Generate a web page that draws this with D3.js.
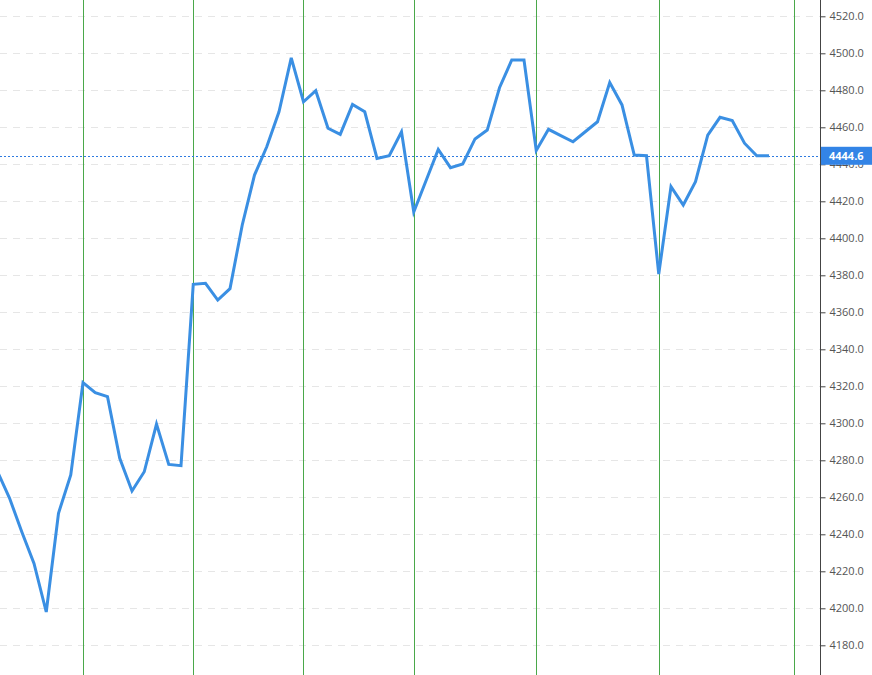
<!DOCTYPE html>
<html>
<head>
<meta charset="utf-8">
<script src="https://cdn.jsdelivr.net/npm/d3@7/dist/d3.min.js"></script>
<style>
  html, body { margin: 0; padding: 0; background: #fff; }
  svg { display: block; }
</style>
</head>
<body>
<svg id="chart" width="872" height="675"></svg>
<script>
// ---- data ----
const prices = [
  4274.2, 4259.6, 4241.4, 4224.3, 4198.0, 4251.4, 4272.1, 4322.0, 4316.6, 4314.4,
  4281.1, 4263.4, 4273.8, 4299.6, 4277.8, 4277.1, 4375.1, 4375.7, 4366.6, 4372.8,
  4407.2, 4434.2, 4449.5, 4468.4, 4497.5, 4473.8, 4479.8, 4459.5, 4456.2, 4472.4,
  4468.4, 4443.2, 4444.6, 4457.6, 4414.2, 4431.1, 4448.0, 4438.2, 4440.2, 4453.7,
  4458.5, 4481.4, 4496.4, 4496.4, 4447.5, 4458.9, 4455.5, 4452.2, 4457.6, 4463.0,
  4484.2, 4472.1, 4445.0, 4444.6, 4380.7, 4427.9, 4418.0, 4430.6, 4455.8, 4465.4,
  4463.6, 4451.4, 4444.6, 4444.6
];
const separatorIdx = [7, 16, 25, 34, 44, 54, 65];
const yTicks = [4180, 4200, 4220, 4240, 4260, 4280, 4300, 4320, 4340, 4360, 4380,
                4400, 4420, 4440, 4460, 4480, 4500, 4520];
const lastPrice = 4444.6;

// ---- layout ----
const W = 872, H = 675;
const axisX = 820;
const svg = d3.select("#chart");

const x = d3.scaleLinear().domain([0, 63]).range([-2.75, 769]);
const y = d3.scaleLinear().domain([4180, 4520]).range([645.3, 16.3]);

svg.append("defs").append("clipPath").attr("id", "plot")
  .append("rect").attr("x", 0).attr("y", 0).attr("width", axisX).attr("height", H);

// gridlines
svg.append("g").selectAll("line").data(yTicks).join("line")
  .attr("x1", 0).attr("x2", axisX)
  .attr("y1", d => Math.round(y(d)) + 0.5).attr("y2", d => Math.round(y(d)) + 0.5)
  .attr("stroke", "#e6e6e6").attr("stroke-width", 1)
  .attr("stroke-dasharray", "7,6");

// separator lines
svg.append("g").attr("clip-path", "url(#plot)")
  .selectAll("line").data(separatorIdx).join("line")
  .attr("x1", d => Math.round(x(d)) + 0.5).attr("x2", d => Math.round(x(d)) + 0.5)
  .attr("y1", 0).attr("y2", H)
  .attr("stroke", "#4aa84a").attr("stroke-width", 1);

// last price dotted line
svg.append("line")
  .attr("x1", 0).attr("x2", axisX)
  .attr("y1", Math.round(y(lastPrice)) + 0.5).attr("y2", Math.round(y(lastPrice)) + 0.5)
  .attr("stroke", "#2f7be0").attr("stroke-width", 1)
  .attr("stroke-dasharray", "2,2");

// price line
const line = d3.line().x((d, i) => x(i)).y(d => y(d));
svg.append("path").attr("clip-path", "url(#plot)")
  .datum(prices)
  .attr("d", line)
  .attr("fill", "none")
  .attr("stroke", "#3a8fe3")
  .attr("stroke-width", 3)
  .attr("stroke-linejoin", "miter");

// right axis
const axis = d3.axisRight(y).tickValues(yTicks).tickFormat(d3.format(".1f"))
  .tickSize(5).tickPadding(4);
const ag = svg.append("g").attr("transform", `translate(${axisX + 0.5},0)`).call(axis);
ag.select(".domain").attr("d", `M0,0V${H}`).attr("stroke", "#444");
ag.selectAll(".tick line").attr("stroke", "#444");
ag.selectAll(".tick text")
  .attr("fill", "#555")
  .style("font-family", "'Open Sans', 'DejaVu Sans', sans-serif")
  .style("font-size", "11px");

// last price label
const ly = y(lastPrice);
svg.append("rect")
  .attr("x", axisX + 1).attr("y", ly - 9)
  .attr("width", W - axisX - 1).attr("height", 18)
  .attr("fill", "#3384e6");
svg.append("text")
  .attr("x", axisX + 9).attr("y", ly)
  .attr("dy", "0.35em")
  .attr("fill", "#fff")
  .style("font-family", "'Open Sans', 'DejaVu Sans', sans-serif")
  .style("font-size", "11px")
  .style("font-weight", "bold")
  .text(d3.format(".1f")(lastPrice));
</script>
</body>
</html>
